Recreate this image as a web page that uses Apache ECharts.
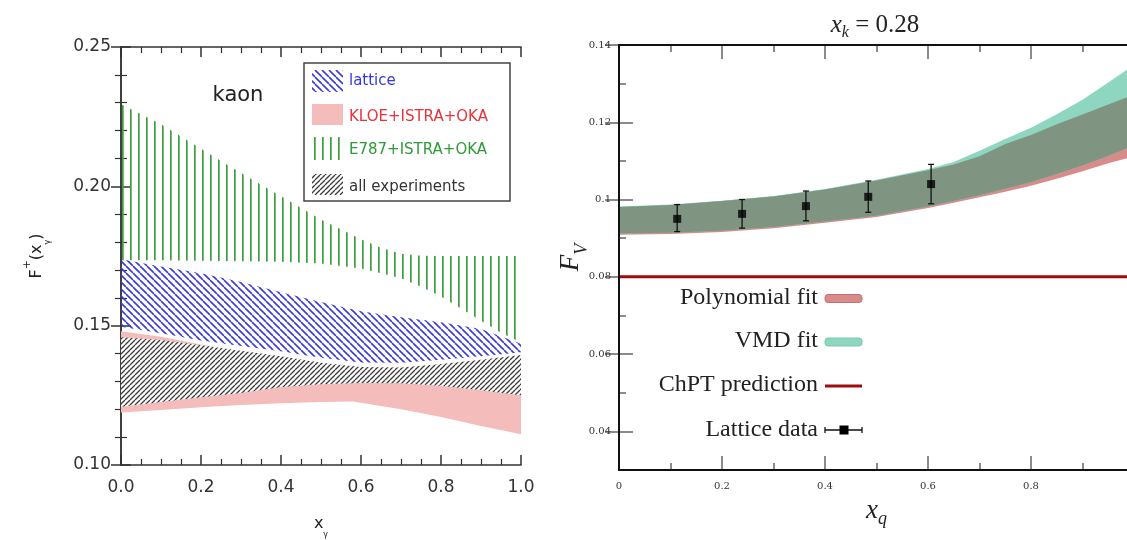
<!DOCTYPE html>
<html><head><meta charset="utf-8">
<script src="https://cdn.jsdelivr.net/npm/echarts@6/dist/echarts.min.js"></script>
<style>html,body{margin:0;padding:0;background:#fff}#c{width:1127px;height:540px}</style>
</head><body><div id="c"></div>
<script>
// ---------- Left panel (kaon) data ----------
const greenX    = [0, 0.1, 0.2, 0.3, 0.4, 0.5, 0.6, 0.65, 0.7, 0.75, 0.8, 0.85, 0.9, 0.95, 1.0];
const greenHigh = [0.2295, 0.2223, 0.2135, 0.2048, 0.1964, 0.1881, 0.1810, 0.1780, 0.1758, 0.1751, 0.1750, 0.1750, 0.1750, 0.1750, 0.1750];
const greenLow  = [0.1735, 0.1735, 0.1733, 0.1731, 0.1729, 0.1723, 0.1705, 0.1688, 0.1670, 0.1640, 0.1605, 0.1562, 0.1518, 0.1475, 0.1440];

const latticeBandX = [0, 0.1, 0.2, 0.3, 0.4, 0.5, 0.6, 0.7, 0.8, 0.9, 1.0];
const latticeHigh  = [0.1738, 0.1712, 0.1688, 0.1657, 0.1620, 0.1585, 0.1552, 0.1530, 0.1512, 0.1488, 0.1435];
const latticeLow   = [0.1496, 0.1473, 0.1447, 0.1427, 0.1408, 0.1385, 0.1368, 0.1367, 0.1378, 0.1390, 0.1405];

const kloeX    = [0, 0.1, 0.2, 0.3, 0.4, 0.5, 0.58, 0.7, 0.8, 0.9, 1.0];
const kloeHigh = [0.1480, 0.1460, 0.1432, 0.1400, 0.1370, 0.1350, 0.1340, 0.1340, 0.1340, 0.1345, 0.1350];
const kloeLow  = [0.1188, 0.1197, 0.1207, 0.1215, 0.1222, 0.1226, 0.1228, 0.1200, 0.1172, 0.1140, 0.1110];

const allExpX    = [0, 0.1, 0.2, 0.3, 0.4, 0.5, 0.6, 0.7, 0.8, 0.9, 1.0];
const allExpHigh = [0.1458, 0.1449, 0.1430, 0.1410, 0.1390, 0.1367, 0.1352, 0.1350, 0.1362, 0.1378, 0.1395];
const allExpLow  = [0.1209, 0.1226, 0.1243, 0.1258, 0.1280, 0.1290, 0.1294, 0.1293, 0.1284, 0.1268, 0.1250];

const leftXTicks = [0, 1, 0.2];      // min, max, interval
const leftYTicks = [0.10, 0.25, 0.05];

// ---------- Right panel (x_k = 0.28) data ----------
const fitX     = [0, 0.1, 0.2, 0.3, 0.4, 0.5, 0.6, 0.65, 0.7, 0.75, 0.8, 0.85, 0.9, 0.95, 1.0];
const vmdHigh  = [0.0982, 0.0987, 0.0997, 0.1009, 0.1027, 0.1051, 0.1079, 0.1097, 0.1126, 0.1157, 0.1186, 0.1221, 0.1258, 0.1303, 0.1348];
const vmdLow   = [0.0912, 0.0914, 0.0919, 0.0929, 0.0943, 0.0958, 0.0982, 0.0996, 0.1011, 0.1028, 0.1045, 0.1066, 0.1088, 0.1113, 0.1140];
const polyHigh = [0.0981, 0.0986, 0.0996, 0.1008, 0.1026, 0.1049, 0.1076, 0.1091, 0.1112, 0.1144, 0.1167, 0.1195, 0.1220, 0.1246, 0.1272];
const polyLow  = [0.0909, 0.0911, 0.0916, 0.0926, 0.0940, 0.0955, 0.0978, 0.0992, 0.1006, 0.1020, 0.1036, 0.1054, 0.1073, 0.1094, 0.1112];

const chptValue = 0.08;
const latticeX  = [0.113, 0.239, 0.363, 0.484, 0.606];
const latticeY  = [0.0950, 0.0963, 0.0983, 0.1007, 0.1040];
const latticeLo = [0.0917, 0.0926, 0.0945, 0.0967, 0.0989];
const latticeHi = [0.0987, 0.1000, 0.1022, 0.1048, 0.1091];

const rightXTicks = [0, 1, 0.2];
const rightYRange = [0.03, 0.14];
const rightYMajor = [0.04, 0.06, 0.08, 0.10, 0.12, 0.14];
const rightYMinor = [0.05, 0.07, 0.09, 0.11, 0.13];
const rightYLabels = ['0.04', '0.06', '0.08', '0.1', '0.12', '0.14'];

// ---------- patterns ----------
function hatch(size, dir, color, lw, bg) {
  const c = document.createElement('canvas'); c.width = size; c.height = size;
  const g = c.getContext('2d');
  if (bg) { g.fillStyle = bg; g.fillRect(0, 0, size, size); }
  g.strokeStyle = color; g.lineWidth = lw; g.beginPath();
  for (let k = -1; k <= 1; k++) {
    if (dir === '\\') { g.moveTo(k * size, 0); g.lineTo(k * size + size, size); }
    else { g.moveTo(k * size, size); g.lineTo(k * size + size, 0); }
  }
  g.stroke();
  return { image: c, repeat: 'repeat' };
}
function vlines(period, offset, color, lw) {
  const c = document.createElement('canvas'); c.width = period; c.height = period;
  const g = c.getContext('2d');
  g.fillStyle = color; g.fillRect(offset, 0, lw, period);
  return { image: c, repeat: 'repeat' };
}
const bluePat  = hatch(7, '\\', '#3b3bd8', 1.6, null);
const blackPat = hatch(5, '/', '#3a3a3a', 1.3, '#ffffff');
const greenPat = vlines(8, 2, '#3f9f3f', 1.7);

// ---------- helpers ----------
function band(name, xs, lo, hi, fill, xi, yi, z) {
  return {
    type: 'custom', name: name, xAxisIndex: xi, yAxisIndex: yi, z: z, silent: true, clip: true,
    data: xs.map((x, i) => [x, lo[i], hi[i]]),
    encode: { x: 0, y: [1, 2] },
    renderItem: function (params, api) {
      if (params.dataIndex !== 0) return null;
      const top = xs.map((x, i) => api.coord([x, hi[i]]));
      const bot = xs.map((x, i) => api.coord([x, lo[i]])).reverse();
      return { type: 'polygon', shape: { points: top.concat(bot) }, style: { fill: fill, stroke: null } };
    }
  };
}
const overlapLow  = fitX.map((x, i) => Math.max(vmdLow[i], polyLow[i]));
const overlapHigh = fitX.map((x, i) => Math.min(vmdHigh[i], polyHigh[i]));

const L = '#333';
const lineL  = () => ({ show: true, lineStyle: { color: L, width: 1.5 } });
const tickL  = () => ({ show: true, inside: true, length: 10, lineStyle: { color: L, width: 1.5 } });
const minorL = n => ({ show: true, splitNumber: n, length: 6, lineStyle: { color: L, width: 1.2 } });
const sansLbl = () => ({ fontFamily: 'DejaVu Sans', fontSize: 17, color: '#333' });

const tickRcol = '#666';
const serifLbl = () => ({ fontFamily: 'DejaVu Serif', fontSize: 10, color: '#333' });
const noLine = () => ({ show: false });
const tickR = (len, vals) => {
  const o = { show: true, inside: true, length: len, lineStyle: { color: tickRcol, width: 1.5 } };
  if (vals) o.customValues = vals;
  return o;
};
const minorRX = () => ({ show: true, splitNumber: 2, length: 7, lineStyle: { color: tickRcol, width: 1.5 } });

const chart = echarts.init(document.getElementById('c'));
chart.setOption({
  animation: false,
  backgroundColor: '#fff',
  grid: [
    { left: 121, top: 47, width: 400, height: 418, outerBoundsMode: 'none', containLabel: false },
    { left: 619, top: 45, width: 515, height: 425, outerBoundsMode: 'none', containLabel: false,
      show: true, z: 10, borderColor: '#111', borderWidth: 2, backgroundColor: 'transparent' }
  ],
  xAxis: [
    { type: 'value', gridIndex: 0, position: 'bottom', min: leftXTicks[0], max: leftXTicks[1], interval: leftXTicks[2],
      axisLine: lineL(), axisTick: tickL(), minorTick: minorL(4), splitLine: { show: false },
      axisLabel: Object.assign({ formatter: v => v.toFixed(1), margin: 14 }, sansLbl()),
      name: '{m|x}{s|γ}', nameLocation: 'middle', nameGap: 44, nameMoveOverlap: false,
      nameTextStyle: { rich: {
        m: { fontFamily: 'DejaVu Sans', fontSize: 16, color: '#222', lineHeight: 30 },
        s: { fontFamily: 'DejaVu Sans', fontSize: 8, color: '#222', lineHeight: 30, verticalAlign: 'bottom' } } } },
    { type: 'value', gridIndex: 0, position: 'top', min: leftXTicks[0], max: leftXTicks[1], interval: leftXTicks[2],
      axisLine: lineL(), axisTick: tickL(), minorTick: minorL(4), splitLine: { show: false }, axisLabel: { show: false } },
    { type: 'value', gridIndex: 1, position: 'bottom', min: rightXTicks[0], max: rightXTicks[1], interval: rightXTicks[2],
      axisLine: noLine(), axisTick: tickR(14), minorTick: minorRX(), splitLine: { show: false },
      axisLabel: Object.assign({ formatter: v => (v === 0 ? '0' : (v >= 1 ? '' : v.toFixed(1))), margin: 11 }, serifLbl()),
      name: '{m|x}{s|q}', nameLocation: 'middle', nameGap: 24, nameMoveOverlap: false,
      nameTextStyle: { rich: {
        m: { fontFamily: 'Liberation Serif', fontStyle: 'italic', fontSize: 27, color: '#222', lineHeight: 34 },
        s: { fontFamily: 'Liberation Serif', fontStyle: 'italic', fontSize: 18, color: '#222', lineHeight: 34, verticalAlign: 'bottom' } } } },
    { type: 'value', gridIndex: 1, position: 'top', min: rightXTicks[0], max: rightXTicks[1], interval: rightXTicks[2],
      axisLine: noLine(), axisTick: tickR(14), minorTick: minorRX(), splitLine: { show: false }, axisLabel: { show: false } }
  ],
  yAxis: [
    { type: 'value', gridIndex: 0, position: 'left', min: leftYTicks[0], max: leftYTicks[1], interval: leftYTicks[2],
      axisLine: lineL(), axisTick: tickL(), minorTick: minorL(5), splitLine: { show: false },
      axisLabel: Object.assign({ formatter: v => v.toFixed(2), margin: 10 }, sansLbl()),
      name: '{m|F}{p|+}{m|(x}{s|γ}{m|)}', nameLocation: 'middle', nameRotate: 90, nameGap: 69, nameMoveOverlap: false,
      nameTextStyle: { rich: {
        m: { fontFamily: 'DejaVu Sans', fontSize: 16, color: '#222', lineHeight: 30 },
        p: { fontFamily: 'DejaVu Sans', fontSize: 11, color: '#222', lineHeight: 30, verticalAlign: 'top' },
        s: { fontFamily: 'DejaVu Sans', fontSize: 8, color: '#222', lineHeight: 30, verticalAlign: 'bottom' } } } },
    { type: 'value', gridIndex: 0, position: 'right', min: leftYTicks[0], max: leftYTicks[1], interval: leftYTicks[2],
      axisLine: lineL(), axisTick: tickL(), minorTick: minorL(5), splitLine: { show: false }, axisLabel: { show: false } },
    { type: 'value', gridIndex: 1, position: 'left', min: rightYRange[0], max: rightYRange[1],
      axisLine: noLine(), axisTick: tickR(14, rightYMajor), splitLine: { show: false },
      axisLabel: Object.assign({ margin: 8, customValues: rightYMajor,
        formatter: v => { const i = rightYMajor.findIndex(t => Math.abs(t - v) < 1e-9); return i >= 0 ? rightYLabels[i] : ''; } }, serifLbl()),
      name: '{m|F}{s|V}', nameLocation: 'middle', nameRotate: 90, nameGap: 28, nameMoveOverlap: false,
      nameTextStyle: { rich: {
        m: { fontFamily: 'Liberation Serif', fontStyle: 'italic', fontSize: 27, color: '#222', lineHeight: 40 },
        s: { fontFamily: 'Liberation Serif', fontStyle: 'italic', fontSize: 18, color: '#222', lineHeight: 40, verticalAlign: 'bottom' } } } },
    { type: 'value', gridIndex: 1, position: 'right', min: rightYRange[0], max: rightYRange[1],
      axisLine: noLine(), axisTick: tickR(14, rightYMajor), splitLine: { show: false }, axisLabel: { show: false } },
    { type: 'value', gridIndex: 1, position: 'left', offset: 0, min: rightYRange[0], max: rightYRange[1],
      axisLine: noLine(), axisTick: tickR(7, rightYMinor), splitLine: { show: false }, axisLabel: { show: false } },
    { type: 'value', gridIndex: 1, position: 'right', offset: 0, min: rightYRange[0], max: rightYRange[1],
      axisLine: noLine(), axisTick: tickR(7, rightYMinor), splitLine: { show: false }, axisLabel: { show: false } }
  ],
  series: [
    band('E787+ISTRA+OKA', greenX, greenLow, greenHigh, greenPat, 0, 0, 1),
    band('lattice', latticeBandX, latticeLow, latticeHigh, bluePat, 0, 0, 2),
    band('KLOE+ISTRA+OKA', kloeX, kloeLow, kloeHigh, '#f5bcbc', 0, 0, 3),
    band('all experiments', allExpX, allExpLow, allExpHigh, blackPat, 0, 0, 4),

    band('Polynomial fit', fitX, polyLow, polyHigh, '#d98a8a', 2, 2, 1),
    band('VMD fit', fitX, vmdLow, vmdHigh, '#8fd6c0', 2, 2, 2),
    band('overlap', fitX, overlapLow, overlapHigh, '#7f9581', 2, 2, 3),
    { type: 'line', name: 'ChPT prediction', xAxisIndex: 2, yAxisIndex: 2, z: 4, silent: true,
      data: [[rightXTicks[0], chptValue], [rightXTicks[1], chptValue]], showSymbol: false,
      lineStyle: { color: '#9e0c0c', width: 3 } },
    { type: 'custom', name: 'Lattice data errors', xAxisIndex: 2, yAxisIndex: 2, z: 5, silent: true,
      data: latticeX.map((x, i) => [x, latticeLo[i], latticeHi[i]]),
      encode: { x: 0, y: [1, 2] },
      renderItem: function (params, api) {
        const x = api.value(0);
        const p1 = api.coord([x, api.value(1)]), p2 = api.coord([x, api.value(2)]);
        const st = { stroke: '#111', lineWidth: 1.3 };
        return { type: 'group', children: [
          { type: 'line', shape: { x1: p1[0], y1: p1[1], x2: p2[0], y2: p2[1] }, style: st },
          { type: 'line', shape: { x1: p1[0] - 3, y1: p1[1], x2: p1[0] + 3, y2: p1[1] }, style: st },
          { type: 'line', shape: { x1: p2[0] - 3, y1: p2[1], x2: p2[0] + 3, y2: p2[1] }, style: st }
        ] };
      } },
    { type: 'scatter', name: 'Lattice data', xAxisIndex: 2, yAxisIndex: 2, z: 6, silent: true,
      data: latticeX.map((x, i) => [x, latticeY[i]]), symbol: 'rect', symbolSize: 8,
      itemStyle: { color: '#000' } }
  ],
  graphic: [
    { type: 'text', z: 100, style: { text: 'kaon', x: 238, y: 96, textAlign: 'center', textVerticalAlign: 'middle',
      fontFamily: 'DejaVu Sans', fontSize: 21, fill: '#222' } },
    { type: 'rect', z: 100, shape: { x: 304, y: 63, width: 206, height: 138 }, style: { fill: '#fff', stroke: '#444', lineWidth: 1.5 } },
    { type: 'rect', z: 101, shape: { x: 312, y: 70, width: 31, height: 22 }, style: { fill: bluePat } },
    { type: 'rect', z: 101, shape: { x: 312, y: 104, width: 31, height: 21 }, style: { fill: '#f5bcbc' } },
    { type: 'rect', z: 101, shape: { x: 312, y: 137, width: 31, height: 23 }, style: { fill: greenPat } },
    { type: 'rect', z: 101, shape: { x: 312, y: 174, width: 31, height: 21 }, style: { fill: blackPat } },
    { type: 'text', z: 101, style: { text: 'lattice', x: 349, y: 81, textVerticalAlign: 'middle', fontFamily: 'DejaVu Sans', fontSize: 15, fill: '#3636e0' } },
    { type: 'text', z: 101, style: { text: 'KLOE+ISTRA+OKA', x: 349, y: 117, textVerticalAlign: 'middle', fontFamily: 'DejaVu Sans', fontSize: 15, fill: '#e8323a' } },
    { type: 'text', z: 101, style: { text: 'E787+ISTRA+OKA', x: 349, y: 150, textVerticalAlign: 'middle', fontFamily: 'DejaVu Sans', fontSize: 15, fill: '#2e9a3a' } },
    { type: 'text', z: 101, style: { text: 'all experiments', x: 349, y: 187, textVerticalAlign: 'middle', fontFamily: 'DejaVu Sans', fontSize: 15, fill: '#333' } },

    { type: 'text', z: 100, style: { text: '{i|x}{s|k}{n| = 0.28}', x: 875, y: 25, textAlign: 'center', textVerticalAlign: 'middle',
      rich: {
        i: { fontFamily: 'Liberation Serif', fontStyle: 'italic', fontSize: 25, fill: '#222', lineHeight: 32 },
        s: { fontFamily: 'Liberation Serif', fontStyle: 'italic', fontSize: 16, fill: '#222', lineHeight: 32, verticalAlign: 'bottom' },
        n: { fontFamily: 'Liberation Serif', fontSize: 25, fill: '#222', lineHeight: 32 } } } },

    { type: 'text', z: 100, style: { text: 'Polynomial fit', x: 818, y: 298, textAlign: 'right', textVerticalAlign: 'middle', fontFamily: 'Liberation Serif', fontSize: 24, fill: '#222' } },
    { type: 'text', z: 100, style: { text: 'VMD fit', x: 818, y: 341, textAlign: 'right', textVerticalAlign: 'middle', fontFamily: 'Liberation Serif', fontSize: 24, fill: '#222' } },
    { type: 'text', z: 100, style: { text: 'ChPT prediction', x: 818, y: 385, textAlign: 'right', textVerticalAlign: 'middle', fontFamily: 'Liberation Serif', fontSize: 24, fill: '#222' } },
    { type: 'text', z: 100, style: { text: 'Lattice data', x: 818, y: 430, textAlign: 'right', textVerticalAlign: 'middle', fontFamily: 'Liberation Serif', fontSize: 24, fill: '#222' } },
    { type: 'rect', z: 100, shape: { x: 825, y: 294.5, width: 37, height: 8, r: 3 }, style: { fill: '#d98a8a', stroke: '#c77272', lineWidth: 1 } },
    { type: 'rect', z: 100, shape: { x: 825, y: 338, width: 37, height: 8, r: 3 }, style: { fill: '#8fd6c0', stroke: '#78c8b0', lineWidth: 1 } },
    { type: 'line', z: 100, shape: { x1: 825, y1: 386, x2: 862, y2: 386 }, style: { stroke: '#9e0c0c', lineWidth: 3 } },
    { type: 'line', z: 100, shape: { x1: 825, y1: 430, x2: 862, y2: 430 }, style: { stroke: '#111', lineWidth: 1.3 } },
    { type: 'line', z: 100, shape: { x1: 825, y1: 427, x2: 825, y2: 433 }, style: { stroke: '#111', lineWidth: 1.3 } },
    { type: 'line', z: 100, shape: { x1: 862, y1: 427, x2: 862, y2: 433 }, style: { stroke: '#111', lineWidth: 1.3 } },
    { type: 'rect', z: 100, shape: { x: 839.5, y: 425.5, width: 9, height: 9 }, style: { fill: '#000' } }
  ]
});
</script>
</body></html>
